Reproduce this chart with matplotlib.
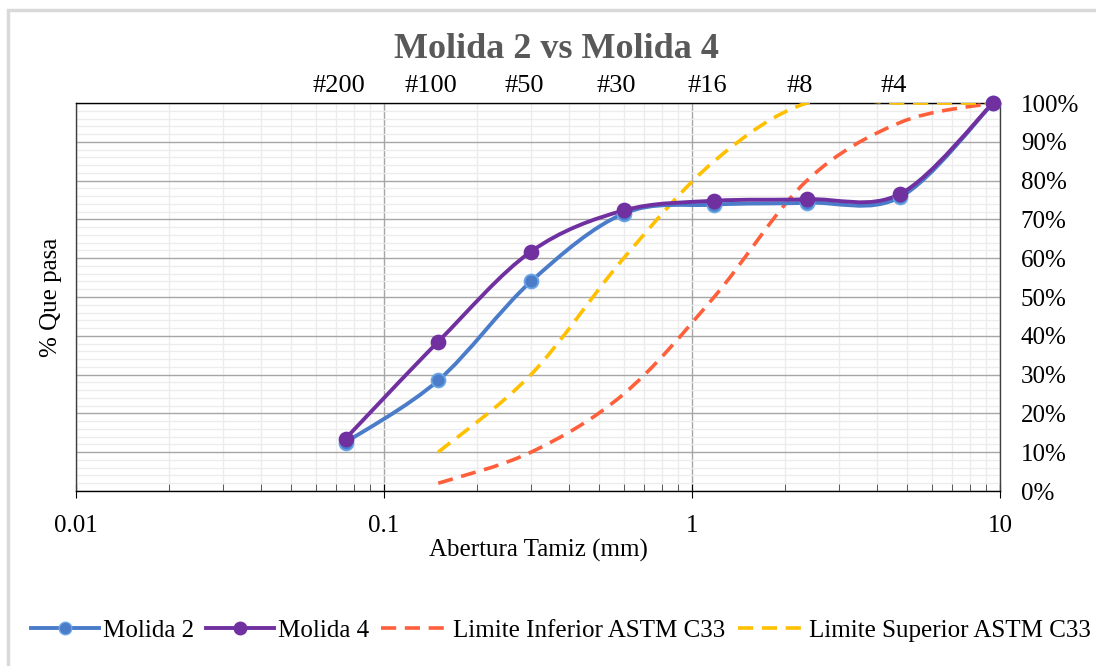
import numpy as np
import matplotlib
matplotlib.use("Agg")
import matplotlib.pyplot as plt
from matplotlib.path import Path
from matplotlib.patches import PathPatch, Rectangle
from matplotlib.lines import Line2D
from matplotlib.ticker import FixedLocator, LogLocator, NullFormatter, FuncFormatter

plt.rcParams["font.family"] = ["Liberation Serif", "DejaVu Serif"]

# sieve openings (mm) and names
sieves = [0.075, 0.15, 0.3, 0.6, 1.18, 2.36, 4.75, 9.5]
sieve_names = ["#200", "#100", "#50", "#30", "#16", "#8", "#4"]

molida2 = [12.5, 28.5, 54.0, 71.5, 73.8, 74.3, 75.8, 100]
molida4 = [13.5, 38.5, 61.7, 72.3, 74.8, 75.2, 76.6, 100]

astm_x = [0.15, 0.3, 0.6, 1.18, 2.36, 4.75, 9.5]
astm_inf = [2, 10, 25, 50, 80, 95, 100]
astm_sup = [10, 30, 60, 85, 100, 100, 100]

BLUE = "#4a7cc9"
PURPLE = "#7030a0"
RED = "#ff5f3b"
YELLOW = "#ffc000"
DASH = (0, (4.2, 2.4))


def smooth_path(xs, ys):
    # Excel-like smoothed line: Catmull-Rom bezier in log-x space
    lx = np.log10(xs)
    ys = np.asarray(ys, float)
    pts = np.column_stack([lx, ys])
    n = len(pts)
    verts = [pts[0]]
    codes = [Path.MOVETO]
    for i in range(n - 1):
        p0 = pts[i - 1] if i > 0 else pts[i]
        p1 = pts[i]
        p2 = pts[i + 1]
        p3 = pts[i + 2] if i + 2 < n else pts[i + 1]
        c1 = p1 + (p2 - p0) / 6
        c2 = p2 - (p3 - p1) / 6
        verts += [c1, c2, p2]
        codes += [Path.CURVE4] * 3
    verts = np.array(verts)
    verts[:, 0] = 10 ** verts[:, 0]
    return Path(verts, codes)


fig = plt.figure(figsize=(10.96, 6.66), dpi=100)
fig.patches.append(Rectangle((8 / 1096, -0.1), 1.2, (656 / 666) + 0.1,
                             transform=fig.transFigure, fill=False,
                             edgecolor="#d9d9d9", linewidth=2.5))
ax = fig.add_axes([76 / 1096, (666 - 491) / 666, 924 / 1096, 388 / 666])
ax.set_xscale("log")
ax.set_xlim(0.01, 10)
ax.set_ylim(0, 100)

# grid
ax.set_yticks(np.arange(0, 101, 10))
ax.yaxis.set_minor_locator(FixedLocator(np.arange(0, 101, 2)))
ax.xaxis.set_minor_locator(LogLocator(base=10, subs=np.arange(2, 10)))
ax.xaxis.set_minor_formatter(NullFormatter())
ax.grid(True, which="major", color="#a6a6a6", linewidth=1.0)
ax.grid(True, which="minor", color="#ececec", linewidth=1.0)
ax.set_axisbelow(True)

for s in ax.spines.values():
    s.set_color("#404040")
    s.set_linewidth(1.0)
ax.spines["top"].set_color("black")
ax.spines["bottom"].set_color("black")

ax.yaxis.tick_right()
ax.yaxis.set_major_formatter(FuncFormatter(lambda v, p: f"{v:.0f}%"))
ax.tick_params(axis="y", which="both", length=0, labelsize=18, pad=15)
ax.tick_params(axis="x", which="major", direction="inout", length=10, labelsize=18, pad=12)
ax.tick_params(axis="x", which="minor", direction="in", length=5, color="#404040")
ax.xaxis.set_major_formatter(FuncFormatter(lambda v, p: f"{v:g}"))

# limits
for ys, c in [(astm_inf, RED), (astm_sup, YELLOW)]:
    ax.add_patch(PathPatch(smooth_path(astm_x, ys), fill=False, edgecolor=c,
                           linewidth=2.6, linestyle=DASH, zorder=3))

# samples
for ys, c, mec in [(molida2, BLUE, "#6aa6e6"), (molida4, PURPLE, PURPLE)]:
    ax.add_patch(PathPatch(smooth_path(sieves, ys), fill=False, edgecolor=c,
                           linewidth=2.8, zorder=4))
    ax.plot(sieves, ys, linestyle="none", marker="o", markersize=10,
            color=c, markeredgecolor=mec, markeredgewidth=1.3, zorder=5,
            clip_on=False)

# sieve names on top
for s, name in zip(sieves, sieve_names):
    ax.annotate(name, xy=(s, 1), xycoords=("data", "axes fraction"),
                xytext=(-5, 4), textcoords="offset points",
                ha="center", va="bottom", fontsize=19)

ax.set_xlabel("Abertura Tamiz (mm)", fontsize=18, labelpad=2)
ax.set_ylabel("% Que pasa", fontsize=18, labelpad=10)
fig.text(0.508, 0.925, "Molida 2 vs Molida 4", ha="center", va="center",
         fontsize=26, fontweight="bold", color="#595959")

handles = [
    Line2D([], [], color=BLUE, linewidth=2.8, marker="o", markersize=9,
           markeredgecolor="#6aa6e6"),
    Line2D([], [], color=PURPLE, linewidth=2.8, marker="o", markersize=9),
    Line2D([], [], color=RED, linewidth=2.6, linestyle=DASH),
    Line2D([], [], color=YELLOW, linewidth=2.6, linestyle=DASH),
]
labels = ["Molida 2", "Molida 4", "Limite Inferior ASTM C33", "Limite Superior ASTM C33"]
fig.legend(handles, labels, loc="center", bbox_to_anchor=(0.512, 0.053), ncol=4,
           frameon=False, fontsize=18, handlelength=2.7, handletextpad=0.16,
           columnspacing=0.5, borderpad=0)

fig.savefig("out.png", dpi=100)
